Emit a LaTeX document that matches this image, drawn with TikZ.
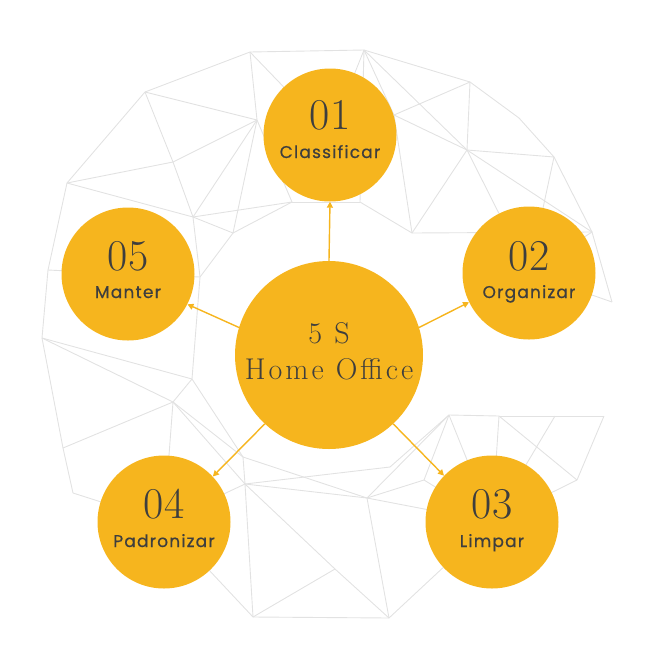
\documentclass[tikz,border=0pt]{standalone}
\usepackage{fontspec}
\setmainfont{Latin Modern Roman}
\newfontfamily\labelfont[FakeBold=0.6]{Poppins}
\usetikzlibrary{arrows.meta,calc}
\definecolor{gold}{RGB}{246,181,30}
\definecolor{meshgray}{RGB}{226,226,226}
\definecolor{ink}{RGB}{62,62,62}
\begin{document}
\begin{tikzpicture}[x=1pt,y=-1pt,
  meshline/.style={draw=meshgray,line width=0.9pt},
  bigc/.style={circle,fill=gold,minimum size=188pt,inner sep=0pt},
  smallc/.style={circle,fill=gold,minimum size=133pt,inner sep=0pt},
  num/.style={anchor=base,text=ink,inner sep=0pt,font=\fontsize{44}{44}\selectfont},
  lab/.style={anchor=base,text=ink,inner sep=0pt,font=\labelfont\fontsize{17}{17}\selectfont\addfontfeature{LetterSpace=7}},
  ttl/.style={anchor=base,text=ink,inner sep=0pt,font=\fontsize{30}{30}\selectfont\addfontfeature{LetterSpace=10}},
  conn/.style={draw=gold,line width=1.4pt,-{Triangle[length=6pt,width=6pt]}}]
\useasboundingbox (0,0) rectangle (657,657);
% circle centres
\coordinate (c0) at (329,355);
\coordinate (c1) at (330,135);
\coordinate (c2) at (529,273);
\coordinate (c3) at (492,522);
\coordinate (c4) at (164,522);
\coordinate (c5) at (128,274);
% mesh vertices
\coordinate (A) at (250,52);
\coordinate (K) at (364,50);
\coordinate (B) at (145,92);
\coordinate (C) at (257,120);
\coordinate (L) at (470,82);
\coordinate (N) at (519,118);
\coordinate (M) at (467,150);
\coordinate (O) at (554,157);
\coordinate (D) at (173,162);
\coordinate (E) at (67,183);
\coordinate (J) at (292,202);
\coordinate (P) at (360,202);
\coordinate (F) at (193,217);
\coordinate (G) at (233,233);
\coordinate (Q) at (412,233);
\coordinate (R) at (592,232);
\coordinate (H) at (48,270);
\coordinate (I) at (200,277);
\coordinate (S) at (612,302);
\coordinate (T) at (394,115);
\coordinate (U) at (42,338);
\coordinate (V) at (192,379);
\coordinate (W) at (173,402);
\coordinate (X) at (63,448);
\coordinate (Y) at (73,493);
\coordinate (Z) at (243,457);
\coordinate (AA) at (245,484);
\coordinate (BB) at (253,617);
\coordinate (CC) at (449,415);
\coordinate (DD) at (499,416);
\coordinate (EE) at (555,416);
\coordinate (FF) at (604,416);
\coordinate (GG) at (577,480);
\coordinate (HH) at (367,498);
\coordinate (II) at (424,480);
\coordinate (JJ) at (335,569);
\coordinate (KK) at (389,618);
\coordinate (LL) at (390,467);
\foreach \a/\b in {A/K,A/B,A/C,A/c1,K/L,K/M,K/T,K/P,K/c1,
  L/N,N/O,O/R,R/S,L/M,L/T,T/M,M/O,M/Q,M/R,M/c2,O/c2,R/c2,S/c2,T/Q,P/Q,Q/R,
  B/C,B/D,B/E,E/D,D/C,D/F,F/C,E/F,E/H,F/G,F/I,G/I,G/C,G/J,J/C,F/J,J/P,
  H/U,H/c5,I/c5,I/V,
  U/V,U/W,U/X,X/W,X/Y,Y/c4,V/W,W/AA,W/Z,W/c4,V/Z,Z/AA,Z/HH,AA/BB,AA/HH,
  AA/JJ,AA/LL,AA/c4,JJ/BB,JJ/KK,BB/KK,HH/KK,HH/II,HH/CC,CC/LL,CC/II,
  CC/DD,DD/EE,EE/FF,FF/GG,DD/GG,GG/c3,EE/c3,DD/c3,CC/c3,II/c3,KK/c3,HH/c3,BB/c4}
  {\draw[meshline] (\a) -- (\b);}
% circles
\node[bigc] (n0) at (c0) {};
\node[smallc] (n1) at (c1) {};
\node[smallc] (n2) at (c2) {};
\node[smallc] (n3) at (c3) {};
\node[smallc] (n4) at (c4) {};
\node[smallc] (n5) at (c5) {};
% texts
\node[ttl] (t0a) at ($(c0)+(0,-12)$) {5 S};
\node[ttl] (t0b) at ($(c0)+(0,24)$) {Home Office};
\node[num] (d1) at ($(c1)+(0,-6)$) {01};
\node[lab] (l1) at ($(c1)+(0,23)$) {Classificar};
\node[num] (d2) at ($(c2)+(0,-3)$) {02};
\node[lab] (l2) at ($(c2)+(0,25)$) {Organizar};
\node[num] (d3) at ($(c3)+(0,-4)$) {03};
\node[lab] (l3) at ($(c3)+(0,25)$) {Limpar};
\node[num] (d4) at ($(c4)+(0,-4)$) {04};
\node[lab] (l4) at ($(c4)+(0,25)$) {Padronizar};
\node[num] (d5) at ($(c5)+(0,-4)$) {05};
\node[lab] (l5) at ($(c5)+(0,24)$) {Manter};
% connectors
\draw[conn] (n0.90) -- (n1.270);
\draw[conn] (n0.17) -- (n2.206);
\draw[conn] (n0.-47) -- (n3.136);
\draw[conn] (n0.227) -- (n4.43);
\draw[conn] (n0.163) -- (n5.-27);
\end{tikzpicture}
\end{document}
